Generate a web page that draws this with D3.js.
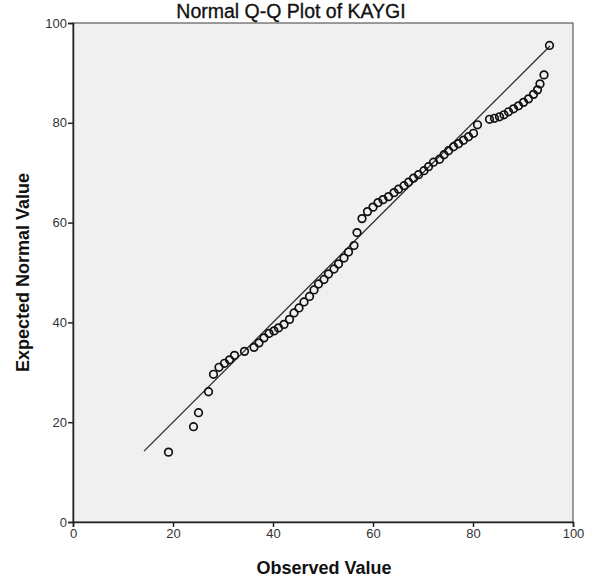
<!DOCTYPE html>
<html>
<head>
<meta charset="utf-8">
<script src="https://cdn.jsdelivr.net/npm/d3@7"></script>
<style>
  body { margin: 0; background: #fff; }
  svg { display: block; font-family: Arial, "Liberation Sans", sans-serif; }
</style>
</head>
<body>
<script>
// observed values (x) and expected normal values (y)
const observed = [19.1, 24.1, 25.1, 27.1, 28.1, 29.2, 30.3, 31.3, 32.3, 34.3,
  36.2, 37.2, 38.2, 39.2, 40.2, 41.1, 42.2, 43.3, 44.2, 45.2,
  46.2, 47.3, 48.2, 49.1, 50.2, 51.1, 52.2, 53.1, 54.2, 55.1,
  56.2, 56.8, 57.8, 58.9, 60.0, 61.0, 62.0, 63.1, 64.2, 65.1,
  66.2, 67.1, 68.1, 69.1, 70.2, 71.1, 72.1, 73.3, 74.2, 75.1,
  76.1, 77.1, 78.1, 79.1, 80.1, 80.9, 83.3, 84.3, 85.3, 86.2,
  87.1, 88.1, 89.1, 90.1, 91.1, 92.1, 92.9, 93.4, 94.2, 95.3];
const expected = [14.0, 19.1, 21.9, 26.1, 29.6, 31.0, 31.8, 32.5, 33.4, 34.2,
  35.0, 35.9, 36.9, 37.8, 38.3, 38.9, 39.6, 40.6, 41.9, 42.9,
  44.1, 45.2, 46.5, 47.7, 48.6, 49.7, 50.7, 51.7, 52.9, 54.1,
  55.4, 58.0, 60.8, 62.2, 63.1, 64.0, 64.6, 65.2, 66.0, 66.7,
  67.4, 68.1, 68.9, 69.6, 70.4, 71.2, 72.1, 72.7, 73.6, 74.4,
  75.2, 75.8, 76.5, 77.2, 77.9, 79.6, 80.7, 80.9, 81.2, 81.6,
  82.2, 82.8, 83.4, 84.1, 84.8, 85.7, 86.6, 87.8, 89.6, 95.5];
const tickValues = [0, 20, 40, 60, 80, 100];
const refLine = [14.2, 95.4];

const width = 593, height = 585;
const margin = { top: 23, right: 20, bottom: 63, left: 73 };

const svg = d3.select("body").append("svg")
  .attr("width", width).attr("height", height);

const x = d3.scaleLinear().domain([0, 100]).range([margin.left, width - margin.right]);
const y = d3.scaleLinear().domain([0, 100]).range([height - margin.bottom, margin.top]);

// plot background
svg.append("rect")
  .attr("x", x(0)).attr("y", y(100))
  .attr("width", x(100) - x(0)).attr("height", y(0) - y(100))
  .attr("fill", "#f0f0f0")
  .attr("stroke", "#3c3c3c")
  .attr("stroke-width", 1);

// reference line
svg.append("line")
  .attr("x1", x(refLine[0])).attr("y1", y(refLine[0]))
  .attr("x2", x(refLine[1])).attr("y2", y(refLine[1]))
  .attr("stroke", "#2a2a2a")
  .attr("stroke-width", 1.3);

// points
const pts = observed.map((d, i) => ({ o: d, e: expected[i] }));
svg.append("g").selectAll("circle")
  .data(pts)
  .enter()
  .append("circle")
  .attr("cx", d => x(d.o))
  .attr("cy", d => y(d.e))
  .attr("r", 3.8)
  .attr("fill", "none")
  .attr("stroke", "#111")
  .attr("stroke-width", 1.7);

// axes
const xAxis = d3.axisBottom(x).tickValues(tickValues).tickSize(5).tickPadding(2);
const yAxis = d3.axisLeft(y).tickValues(tickValues).tickSize(5).tickPadding(1);

const gx = svg.append("g")
  .attr("transform", "translate(0," + y(0) + ")")
  .call(xAxis);
const gy = svg.append("g")
  .attr("transform", "translate(" + x(0) + ",0)")
  .call(yAxis);

[gx, gy].forEach(g => {
  g.select(".domain").attr("stroke", "#222").attr("stroke-width", 1.5);
  g.selectAll(".tick line").attr("stroke", "#222").attr("stroke-width", 1.5);
  g.selectAll(".tick text")
    .attr("fill", "#333")
    .style("font-size", "13px")
    .style("font-family", "Arial, 'Liberation Sans', sans-serif");
});

// titles
svg.append("text")
  .attr("x", 291).attr("y", 18)
  .attr("text-anchor", "middle")
  .style("font-size", "19.5px")
  .attr("fill", "#111")
  .attr("stroke", "#111")
  .attr("stroke-width", 0.3)
  .text("Normal Q-Q Plot of KAYGI");

svg.append("text")
  .attr("x", 324).attr("y", 574)
  .attr("text-anchor", "middle")
  .style("font-size", "18px")
  .style("font-weight", "bold")
  .attr("fill", "#111")
  .text("Observed Value");

svg.append("text")
  .attr("transform", "translate(29," + ((y(0) + y(100)) / 2) + ") rotate(-90)")
  .attr("text-anchor", "middle")
  .style("font-size", "18px")
  .style("font-weight", "bold")
  .attr("fill", "#111")
  .text("Expected Normal Value");
</script>
</body>
</html>
